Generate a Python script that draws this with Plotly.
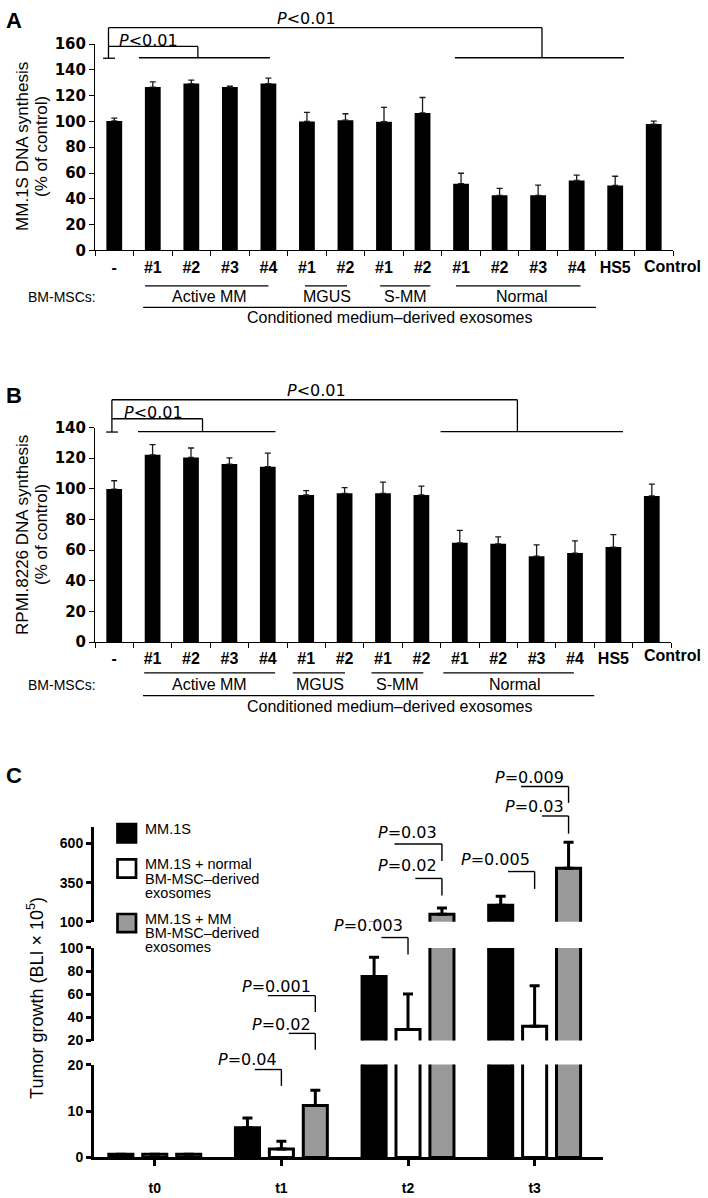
import plotly.graph_objects as go

W, H = 708, 1198

# ---------------- data ----------------
cat_labels = ["-", "#1", "#2", "#3", "#4", "#1", "#2", "#1", "#2",
              "#1", "#2", "#3", "#4", "HS5", "Control"]
mm1s_dna = [100.4, 126.7, 129.4, 126.7, 129.4, 100.0, 101.0, 99.8, 106.6,
            51.7, 42.7, 42.7, 54.2, 50.4, 98.0]
mm1s_err = [2.2, 4.0, 2.7, 0.8, 4.3, 7.0, 5.0, 11.2, 12.0,
            8.1, 5.3, 7.9, 4.1, 7.1, 2.2]
rpmi_dna = [99.9, 122.2, 120.5, 116.2, 114.5, 96.0, 97.1, 97.1, 96.0,
            64.8, 64.1, 56.0, 58.1, 62.0, 95.4]
rpmi_err = [5.4, 6.7, 6.2, 4.1, 8.8, 2.8, 3.7, 7.3, 5.8,
            8.1, 4.5, 7.5, 7.9, 8.1, 7.7]
group_labels = ["Active MM", "MGUS", "S-MM", "Normal"]

time_labels = ["t0", "t1", "t2", "t3"]
growth_mm1s = [0.7, 6.4, 75.3, 205.0]
growth_mm1s_err = [0.0, 2.1, 16.7, 59.0]
growth_normal = [0.7, 1.8, 29.6, 32.4]
growth_normal_err = [0.0, 1.7, 30.6, 34.9]
growth_mm = [0.7, 11.2, 148.0, 443.0]
growth_mm_err = [0.0, 3.3, 40.0, 165.0]
legend_labels = [["MM.1S"],
                 ["MM.1S + normal", "BM-MSC\u2013derived", "exosomes"],
                 ["MM.1S + MM", "BM-MSC\u2013derived", "exosomes"]]

# ---------------- helpers ----------------
def fx(p):
    return p / W


def fy(p):
    return 1 - p / H


ARIAL = "Arial, Liberation Sans, sans-serif"
DEJA = "DejaVu Sans, sans-serif"

fig = go.Figure()
n = len(cat_labels)

for vals, errs, xa, ya in [(mm1s_dna, mm1s_err, "x", "y"),
                           (rpmi_dna, rpmi_err, "x2", "y2")]:
    fig.add_trace(go.Bar(
        x=list(range(n)), y=vals, width=0.41,
        marker=dict(color="black", line=dict(width=0)),
        error_y=dict(type="data", symmetric=False, array=errs,
                     arrayminus=[0] * n, color="#1a1a1a",
                     thickness=1.3, width=3),
        xaxis=xa, yaxis=ya, showlegend=False, hoverinfo="skip"))

series_c = [(growth_mm1s, growth_mm1s_err, "black"),
            (growth_normal, growth_normal_err, "white"),
            (growth_mm, growth_mm_err, "#999999")]
SLOT = 0.268
BW = 0.19
for k, (vals, errs, col) in enumerate(series_c):
    for ya in ["y3", "y4", "y5"]:
        fig.add_trace(go.Bar(
            x=list(range(len(time_labels))), y=vals, width=BW,
            offset=(k - 1) * SLOT - BW / 2,
            marker=dict(color=col, line=dict(color="black", width=3)),
            error_y=dict(type="data", symmetric=False, array=errs,
                         arrayminus=[0] * len(vals), color="black",
                         thickness=3, width=5),
            xaxis="x3", yaxis=ya, showlegend=False, hoverinfo="skip"))

# ---------------- axes ----------------
CAT_FONT = dict(family=ARIAL, size=16, color="black", weight="bold")


def cat_xaxis(d0, d1, anchor):
    # the last (wide) label is written as an annotation nudged right, as in the original
    return dict(domain=[fx(d0), fx(d1)], range=[-0.5, n - 0.5], anchor=anchor,
                tickmode="array", tickvals=list(range(n - 1)), ticktext=cat_labels[:-1],
                ticks="", showline=True, linecolor="black", linewidth=1,
                showgrid=False, zeroline=False, ticklabelstandoff=2, tickangle=0,
                tickfont=CAT_FONT,
                minor=dict(tickmode="array", tickvals=[i - 0.5 for i in range(n + 1)],
                           ticks="outside", ticklen=5, tickcolor="black", tickwidth=1),
                fixedrange=True)


def val_yaxis(d0, d1, top, anchor):
    return dict(domain=[fy(d0), fy(d1)], range=[0, top], anchor=anchor,
                tickmode="array", tickvals=list(range(0, top + 1, 20)),
                ticks="outside", ticklen=5, tickcolor="black", tickwidth=1,
                showline=True, linecolor="black", linewidth=1,
                showgrid=False, zeroline=False,
                tickfont=dict(family=DEJA, size=15, color="black", weight="bold"),
                fixedrange=True)


c_tickfont = dict(family=ARIAL, size=14, color="black", weight="bold")


def c_yaxis(d0, d1, rng, tv):
    return dict(domain=[fy(d0), fy(d1)], range=rng, anchor="x3",
                tickmode="array", tickvals=tv, ticks="outside", ticklen=5,
                tickwidth=3, tickcolor="black", showline=True, linecolor="black",
                linewidth=3, showgrid=False, zeroline=False, tickfont=c_tickfont,
                fixedrange=True)


fig.update_layout(
    width=W, height=H, margin=dict(l=0, r=0, t=0, b=0),
    paper_bgcolor="white", plot_bgcolor="white", barmode="overlay",
    font=dict(family=ARIAL, color="black"),
    xaxis=cat_xaxis(95, 673, "y"),
    yaxis=val_yaxis(245, 35.7, 160, "x"),
    xaxis2=cat_xaxis(95, 671, "y2"),
    yaxis2=val_yaxis(642.7, 425, 140, "x2"),
    xaxis3=dict(domain=[fx(94), fx(603)], range=[-0.48, 3.54], anchor="y3",
                tickmode="array", tickvals=list(range(len(time_labels))),
                ticktext=time_labels, ticks="outside", ticklen=6, tickwidth=3,
                tickcolor="black", showline=True, linecolor="black", linewidth=3,
                showgrid=False, zeroline=False, ticklabelstandoff=10,
                tickfont=c_tickfont, fixedrange=True),
    yaxis3=c_yaxis(1166, 1071.7, [0, 20], [0, 10, 20]),
    yaxis4=c_yaxis(1047.3, 953.3, [20, 100], [20, 40, 60, 80, 100]),
    yaxis5=c_yaxis(926.7, 830, [100, 709], [100, 350, 600]),
)

shapes = []
annots = []


def line(x0, y0, x1, y1, xref="paper", w=1.3):
    shapes.append(dict(type="line", xref=xref, yref="paper",
                       x0=x0 if xref != "paper" else fx(x0), x1=x1 if xref != "paper" else fx(x1),
                       y0=fy(y0), y1=fy(y1), line=dict(color="black", width=w)))


def text(t, x, y, size, xref="paper", family=ARIAL, weight="normal",
         xanchor="center", angle=0):
    annots.append(dict(text=t, xref=xref, yref="paper",
                       x=x if xref != "paper" else fx(x), y=fy(y),
                       xanchor=xanchor, yanchor="middle", showarrow=False,
                       textangle=angle,
                       font=dict(family=family, size=size, color="black", weight=weight)))


# ---------- panel A / B decorations ----------
panels = [
    dict(xref="x", letter="A", letter_y=12, title=["MM.1S DNA synthesis", "(% of control)"],
         title_y=140, big_top=19, bot=49.5, small_top=38, left=-0.15, cap=(-0.29, 0.02),
         right=11.1, right_h=(8.84, 13.23), small_right=2.17, small_h=(0.64, 4.04),
         ptext_big=(306, 10), ptext_small=(148, 32), tick_y=261,
         under_y=281, unders=[(0.8, 4.0), (4.95, 6.04), (6.9, 8.2), (8.87, 12.1)],
         glabel_y=292, glabels=[2.48, 5.53, 7.55, 10.57], cond_line=(0.75, 12.5),
         cond_y=303, cond_text_y=313),
    dict(xref="x2", letter="B", letter_y=392, title=["RPMI.8226 DNA synthesis", "(% of control)"],
         title_y=534, big_top=396.7, bot=429, small_top=416, left=-0.06, cap=(-0.21, 0.1),
         right=10.5, right_h=(8.5, 13.25), small_right=2.3, small_h=(0.62, 4.2),
         ptext_big=(316, 387), ptext_small=(153, 410), tick_y=656,
         under_y=674, unders=[(0.78, 4.19), (4.65, 6.01), (6.7, 8.05), (8.57, 11.97)],
         glabel_y=686, glabels=[2.49, 5.36, 7.38, 10.44], cond_line=(0.75, 12.5),
         cond_y=697, cond_text_y=708),
]
for p in panels:
    xr = p["xref"]
    text("<b>%s</b>" % p["letter"], 14, p["letter_y"], 22)
    text(p["title"][0], 23, p["title_y"], 17, angle=-90)
    text(p["title"][1], 42, p["title_y"], 17, angle=-90)
    # last category label
    text("<b>%s</b>" % cat_labels[-1], 672, p["tick_y"], 16)
    # big bracket
    line(p["left"], p["big_top"], p["left"], p["bot"] + 0.5, xr)
    line(p["cap"][0], p["bot"] + 0.5, p["cap"][1], p["bot"] + 0.5, xr)
    line(p["left"], p["big_top"], p["right"], p["big_top"], xr)
    line(p["right"], p["big_top"], p["right"], p["bot"], xr)
    line(p["right_h"][0], p["bot"], p["right_h"][1], p["bot"], xr)
    # small bracket
    line(p["left"], p["small_top"], p["small_right"], p["small_top"], xr)
    line(p["small_right"], p["small_top"], p["small_right"], p["bot"], xr)
    line(p["small_h"][0], p["bot"], p["small_h"][1], p["bot"], xr)
    text("<i>P</i>&lt;0.01", p["ptext_big"][0], p["ptext_big"][1], 16, family=DEJA)
    text("<i>P</i>&lt;0.01", p["ptext_small"][0], p["ptext_small"][1], 16, family=DEJA)
    # group labels
    for (a, b), g, gx in zip(p["unders"], group_labels, p["glabels"]):
        line(a, p["under_y"], b, p["under_y"], xr)
        text(g, gx, p["glabel_y"], 16, xref=xr)
    text("BM-MSCs:", 61.5, p["glabel_y"], 14)
    line(p["cond_line"][0], p["cond_y"], p["cond_line"][1], p["cond_y"], xr)
    text("Conditioned medium\u2013derived exosomes", 390, p["cond_text_y"], 16)

# ---------- panel C decorations ----------
text("<b>C</b>", 14, 778, 22)
text("Tumor growth (BLI \u00d7 10<sup>5</sup>)", 36, 1004, 18, angle=-90)

leg_fill = ["black", "white", "#999999"]
leg_top = [827.5, 863.3, 918.8]
for col, top, lines_ in zip(leg_fill, leg_top, legend_labels):
    shapes.append(dict(type="rect", xref="paper", yref="paper",
                       x0=fx(117.5), x1=fx(136), y0=fy(top + 18.5), y1=fy(top),
                       fillcolor=col, line=dict(color="black", width=2.7)))
    for i, t in enumerate(lines_):
        text(t, 143, top + 5 + i * 14.5, 14.5, xanchor="left")

SHORT, LONG = 0.21, 0.375
# (label, group, bar index offset, length, text_y, line_y, bottom_y)
c_brackets = [
    ("0.04", 1, 0, SHORT, 1066.7, 1076.7, 1093.3),
    ("0.02", 1, 1, SHORT, 1031, 1040, 1056.7),
    ("0.001", 1, 1, LONG, 992.7, 1001.7, 1018.3),
    ("0.003", 2, 0, SHORT, 930.7, 942.7, 960),
    ("0.02", 2, 1, SHORT, 870, 882.7, 900),
    ("0.03", 2, 1, LONG, 836, 847.7, 865),
    ("0.005", 3, 0, SHORT, 863.3, 875.7, 893.3),
    ("0.03", 3, 1, SHORT, 810, 819.3, 837.3),
    ("0.009", 3, 1, LONG, 780, 789.3, 806),
]
for lab, g, k, ln, ty, ly, by in c_brackets:
    xv = g + k * SLOT
    line(xv - ln, ly, xv, ly, "x3", w=1.4)
    line(xv, ly, xv, by, "x3", w=1.4)
    text("<i>P</i>=" + lab, xv - 0.02, ty, 16, xref="x3", family=DEJA, xanchor="right")

fig.update_layout(shapes=shapes, annotations=annots)
fig.write_html("out.html", config={"displayModeBar": False},
               post_script="document.body.style.margin='0';document.body.style.padding='0';")
